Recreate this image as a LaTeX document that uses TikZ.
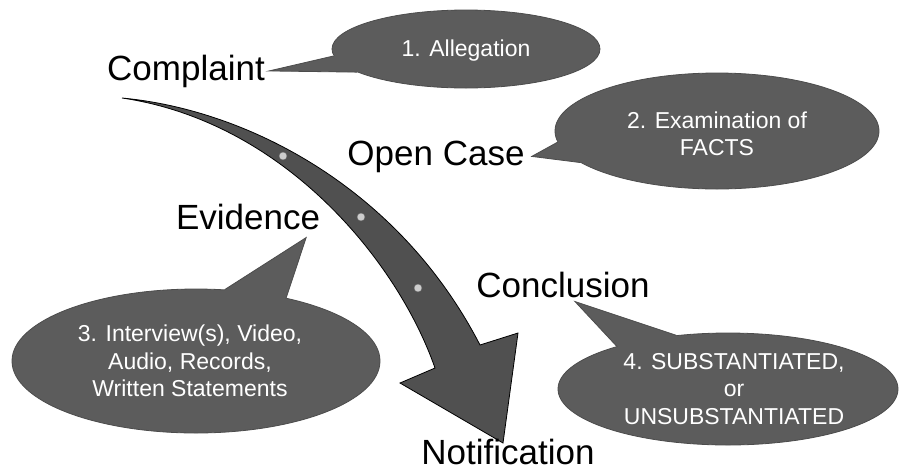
\documentclass[tikz,border=0pt]{standalone}
\usepackage{fontspec}
\setmainfont{Liberation Sans}
\usetikzlibrary{shapes.geometric}
\definecolor{bubblegray}{RGB}{92,92,92}
\definecolor{arrowgray}{RGB}{80,80,80}
\definecolor{dotgray}{RGB}{205,205,205}
\begin{document}
\begin{tikzpicture}[x=1pt, y=-1pt,
    stage/.style={anchor=base, inner sep=0pt, font=\fontsize{35}{42}\selectfont},
    bubble/.style={ellipse, fill=bubblegray, draw=black!70, line width=0.8pt, inner sep=0pt},
    bubbletext/.style={text=white, align=center, inner sep=0pt,
                       font=\fontsize{23}{27.5}\selectfont},
    tailfill/.style={fill=bubblegray},
    tailedge/.style={draw=black!70, line width=0.8pt, line join=miter}]
  \useasboundingbox (0,0) rectangle (901,472);

  % curved arrow
  \coordinate (arrstart) at (122,98);
  \coordinate (barbR) at (518,333);
  \coordinate (headtip) at (503,443);
  \coordinate (barbL) at (400,383);
  \filldraw[fill=arrowgray, draw=black, line width=0.8pt, line join=miter]
    (arrstart) .. controls (250,110) and (400,190) .. (480,345) -- (barbR)
    -- (headtip) -- (barbL) -- (435,368) .. controls (398,262) and (285,122) .. cycle;
  \foreach \p in {(283,156),(361,217),(418,288)}
    \filldraw[fill=dotgray, draw=black!60, line width=0.4pt] \p circle (4);

  % stages
  \node[stage] (complaint) at (186,80) {Complaint};
  \node[stage] (opencase) at (436,165) {Open Case};
  \node[stage] (evidence) at (248,229) {Evidence};
  \node[stage] (conclusion) at (563,297) {Conclusion};
  \node[stage] (notification) at (508,464) {Notification};

  % bubbles
  \node[bubble, minimum width=268pt, minimum height=78pt] (allegation) at (466,49) {};
  \node[bubble, minimum width=324pt, minimum height=116pt] (facts) at (717,131) {};
  \node[bubble, minimum width=368pt, minimum height=144pt] (records) at (196,361) {};
  \node[bubble, minimum width=340pt, minimum height=112pt] (verdict) at (728,389) {};

  % tails
  \coordinate (tipA) at ([xshift=4pt]complaint.east);
  \fill[tailfill] (allegation.183) -- (tipA) -- (allegation.192) -- (allegation.center) -- cycle;
  \draw[tailedge] (allegation.183) -- (tipA) -- (allegation.192);

  \coordinate (tipB) at ([xshift=7pt]opencase.east);
  \fill[tailfill] (facts.184) -- (tipB) -- (facts.193) -- (facts.center) -- cycle;
  \draw[tailedge] (facts.184) -- (tipB) -- (facts.193);

  \coordinate (tipC) at ([xshift=-14pt,yshift=-8pt]evidence.south east);
  \fill[tailfill] (records.68) -- (tipC) -- (records.35) -- (records.center) -- cycle;
  \draw[tailedge] (records.68) -- (tipC) -- (records.35);

  \coordinate (tipD) at ([xshift=12pt,yshift=-4pt]conclusion.south);
  \fill[tailfill] (verdict.159) -- (tipD) -- (verdict.134) -- (verdict.center) -- cycle;
  \draw[tailedge] (verdict.159) -- (tipD) -- (verdict.134);

  % bubble texts
  \node[bubbletext] (allegationtext) at ([yshift=-2pt]allegation.center) {1. Allegation};
  \node[bubbletext] (factstext) at ([yshift=-3pt]facts.center) {2. Examination of\\FACTS};
  \node[bubbletext] (recordstext) at ([xshift=-6pt]records.center)
    {3. Interview(s), Video,\\Audio, Records,\\Written Statements};
  \node[bubbletext] (verdicttext) at ([xshift=6pt]verdict.center)
    {4. SUBSTANTIATED,\\or\\UNSUBSTANTIATED};
\end{tikzpicture}
\end{document}
